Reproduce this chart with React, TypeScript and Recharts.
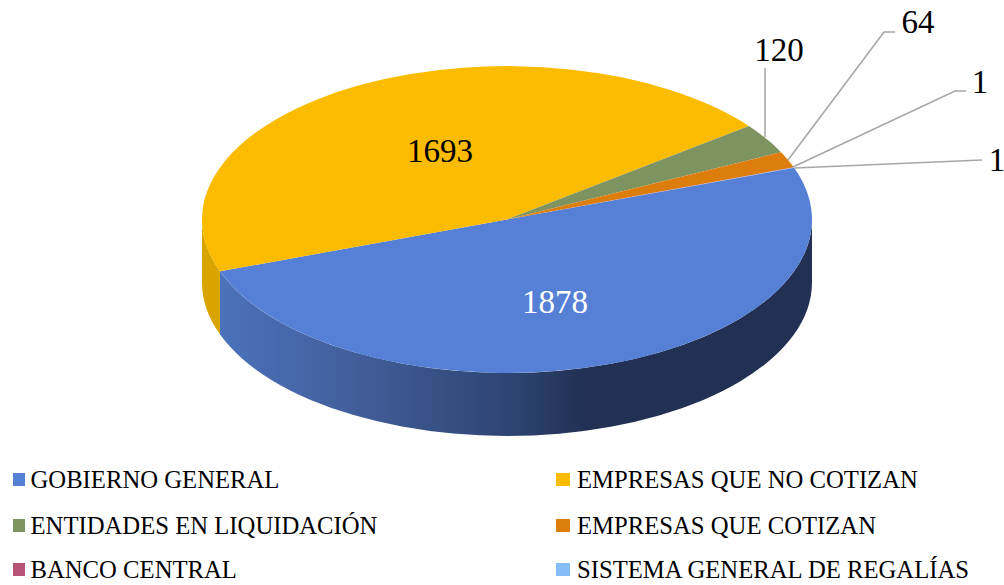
import { Legend, Pie, PieChart } from "recharts";

const names = [
  "GOBIERNO GENERAL",
  "EMPRESAS QUE NO COTIZAN",
  "ENTIDADES EN LIQUIDACIÓN",
  "EMPRESAS QUE COTIZAN",
  "BANCO CENTRAL",
  "SISTEMA GENERAL DE REGALÍAS",
];
const values = [1878, 1693, 120, 64, 1, 1];
const colors = ["#5580d6", "#fbbc00", "#7e9460", "#dd7d0c", "#b85378", "#85bdf8"];
const wallColors = ["url(#blueWall)", "#d9a300", "#66784e", "#b3650a", "#94435f", "#6b99c9"];

const rows = names.map((name, i) => ({ name, value: values[i], fill: colors[i] }));

// the pie is tilted: vertical radius is a fraction of the horizontal one
const TILT = 0.503;
const DEPTH = 63;
const RAD = Math.PI / 180;

// where each value label sits; line holds the leader line's points
const labelSpots = [
  { x: 555, y: 302, color: "#ffffff" },
  { x: 440, y: 151, color: "#000000" },
  { x: 779, y: 50, color: "#000000", line: [[765, 137], [765, 68]] },
  { x: 918, y: 22, color: "#000000", line: [[788, 160], [884, 32], [895, 32]] },
  { x: 980, y: 82, color: "#000000", line: [[793, 167], [955, 91], [966, 91]] },
  { x: 997, y: 160, color: "#000000", line: [[795, 168], [982, 160]] },
];

function Slice(props: any) {
  const { cx, cy, outerRadius, startAngle, endAngle, fill, index } = props;
  const rx = outerRadius;
  const ry = outerRadius * TILT;
  const px = (a: number) => cx + rx * Math.cos(a * RAD);
  const py = (a: number) => cy - ry * Math.sin(a * RAD);
  const large = Math.abs(startAngle - endAngle) > 180 ? 1 : 0;
  const face = `M${cx} ${cy}L${px(startAngle)} ${py(startAngle)}A${rx} ${ry} 0 ${large} 1 ${px(endAngle)} ${py(endAngle)}Z`;

  // only the part of the rim facing the viewer shows a wall
  const wallFrom = Math.min(startAngle, 0);
  const wallTo = Math.max(endAngle, -180);
  let wall = null;
  if (wallFrom > wallTo) {
    wall = (
      <path
        d={`M${px(wallFrom)} ${py(wallFrom)}A${rx} ${ry} 0 0 1 ${px(wallTo)} ${py(wallTo)}L${px(wallTo)} ${py(wallTo) + DEPTH}A${rx} ${ry} 0 0 0 ${px(wallFrom)} ${py(wallFrom) + DEPTH}Z`}
        fill={wallColors[index]}
      />
    );
  }
  return (
    <g>
      {wall}
      <path d={face} fill={fill} />
    </g>
  );
}

function ValueLabel(props: any) {
  const { index, value } = props;
  const spot = labelSpots[index];
  return (
    <g>
      {spot.line && (
        <polyline
          points={spot.line.map((p) => p.join(",")).join(" ")}
          fill="none"
          stroke="#a6a6a6"
          strokeWidth={1.5}
        />
      )}
      <text
        x={spot.x}
        y={spot.y}
        textAnchor="middle"
        dominantBaseline="central"
        fontFamily="'Liberation Serif', serif"
        fontSize={33}
        fill={spot.color}
      >
        {value}
      </text>
    </g>
  );
}

function LegendGrid(props: any) {
  const items = props.payload ?? [];
  return (
    <div style={{ position: "relative", width: 1004, height: 585, fontFamily: "'Liberation Serif', serif", fontSize: 24.7, color: "#000" }}>
      {items.map((item: any, i: number) => {
        const col = i % 2;
        const row = Math.floor(i / 2);
        const top = [480, 526, 570][row];
        return (
          <div key={item.value} style={{ position: "absolute", left: col ? 556 : 13, top: top - 15, height: 30, lineHeight: "30px", whiteSpace: "nowrap" }}>
            <span style={{ position: "absolute", left: 0, top: 8, width: col ? 14 : 12, height: 13, background: item.color }} />
            <span style={{ position: "absolute", left: col ? 21 : 17.5 }}>{item.value}</span>
          </div>
        );
      })}
    </div>
  );
}

export default function App() {
  return (
    <div style={{ position: "fixed", left: 0, top: 0, width: 1004, height: 585, background: "#fff", overflow: "hidden" }}>
      <PieChart width={1004} height={585} margin={{ top: 0, right: 0, bottom: 0, left: 0 }}>
        <defs>
          <linearGradient id="blueWall" gradientUnits="userSpaceOnUse" x1={218} y1={0} x2={812} y2={0}>
            <stop offset="0" stopColor="#4b72bb" />
            <stop offset="0.22" stopColor="#435f9c" />
            <stop offset="0.5" stopColor="#2d4472" />
            <stop offset="0.62" stopColor="#213053" />
            <stop offset="1" stopColor="#213053" />
          </linearGradient>
        </defs>
        <Pie
          data={rows}
          dataKey="value"
          nameKey="name"
          cx={507}
          cy={219.5}
          innerRadius={0}
          outerRadius={305}
          startAngle={19.7}
          endAngle={-340.3}
          stroke="none"
          shape={Slice}
          label={ValueLabel}
          labelLine={false}
          isAnimationActive={false}
        />
        <Legend
          content={LegendGrid}
          itemSorter={null}
          wrapperStyle={{ position: "absolute", left: 0, top: 0, width: 1004, height: 585, pointerEvents: "none" }}
        />
      </PieChart>
    </div>
  );
}
